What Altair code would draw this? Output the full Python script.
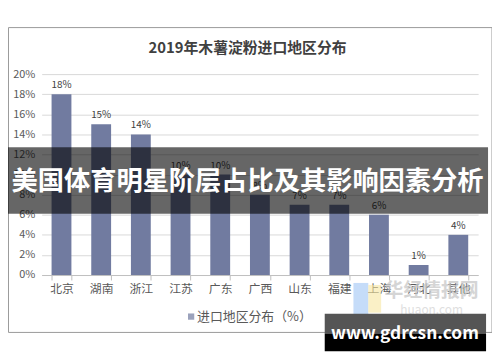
import altair as alt
import pandas as pd

regions = ["北京", "湖南", "浙江", "江苏", "广东", "广西", "山东", "福建", "上海", "河北", "其他"]
shares = [18, 15, 14, 10, 10, 8, 7, 7, 6, 1, 4]
y_ticks = [0, 2, 4, 6, 8, 10, 12, 14, 16, 18, 20]

chart_title = "2019年木薯淀粉进口地区分布"
legend_label = "进口地区分布（%）"
banner_text = "美国体育明星阶层占比及其影响因素分析"
site_text = "www.gdrcsn.com"
faint_name = "华经情报网"
faint_url = "huaon.com"

FONT = "Noto Sans CJK SC"
BAR = "#717BA0"

df = pd.DataFrame({"region": regions, "share": shares})
df["label"] = [f"{v}%" for v in shares]
one = pd.DataFrame({"k": [0]})

W, H = 441, 203

xscale = alt.Scale(paddingInner=0.5, paddingOuter=0.25)
yscale = alt.Scale(domain=[0, 20], nice=False)

xaxis = alt.Axis(labelAngle=0, labelFont=FONT, labelFontSize=12, labelColor="#595959",
                 domainColor="#BFBFBF", tickColor="#BFBFBF", tickSize=5,
                 tickBand="extent", labelPadding=4, grid=False, labelOverlap=False)
yaxis = alt.Axis(values=y_ticks, labelExpr="datum.value + '%'", labelFont=FONT,
                 labelFontSize=11, labelColor="#595959", domain=False, ticks=False,
                 labelPadding=7, gridColor="#D9D9D9", grid=True,
                 labelOverlap=False, labelFlush=False)

xenc = alt.X("region:N", sort=regions, title=None, scale=xscale, axis=xaxis)
yenc = alt.Y("share:Q", title=None, scale=yscale, axis=yaxis)

base = alt.Chart(df)
bars = base.mark_bar(color=BAR).encode(x=xenc, y=yenc)
labels = base.mark_text(font=FONT, fontSize=10, color="#404040", dy=-9).encode(
    x=xenc, y=yenc, text="label:N")

o = alt.Chart(one)

def rect(x, x2, y, y2, **kw):
    return o.mark_rect(**kw).encode(x=alt.value(x), x2=alt.value(x2), y=alt.value(y), y2=alt.value(y2))

def txt(s, x, y, **kw):
    return o.mark_text(**kw).encode(x=alt.value(x), y=alt.value(y), text=alt.value(s))

frame = rect(-33.5, 455, -47, 261, fill=None, stroke="#9A9A9A", strokeWidth=1)
title = txt(chart_title, 208, -26, font=FONT, fontSize=15, fontWeight="bold", color="#404040")
leg_sq = o.mark_square(size=40, color=BAR).encode(x=alt.value(151), y=alt.value(245))
leg_tx = txt(legend_label, 157, 245, font=FONT, fontSize=13, color="#595959", align="left")

logo_b = rect(315, 330, 211, 243, fill="#9EC5F5", opacity=0.6)
logo_y = rect(330, 343, 213, 241, fill="#F7E6A0", opacity=0.6)
faint1 = txt(faint_name, 394, 219, font=FONT, fontSize=19, fontWeight="bold", color="#C8C8C8", opacity=0.75)
faint2 = txt(faint_url, 394, 238, font=FONT, fontSize=12, color="#D5D5D5", opacity=0.75)

banner = rect(-34, 451, 74, 141, fill="#000000", opacity=0.6)
banner_t = txt(banner_text, 208, 109, font=FONT, fontSize=26.5, fontWeight="bold", color="#FFFFFF")

box1 = rect(286, 449, 242, 262, fill="#555555")
box2 = rect(286, 449, 262, 280, fill="#000000")
box_t = txt(site_text, 367, 263, font=FONT, fontSize=17.5, fontWeight="bold", color="#FFFFFF")

chart = alt.layer(frame, bars, labels, title, leg_sq, leg_tx, logo_b, logo_y, faint1, faint2,
                  banner, banner_t, box1, box2, box_t).properties(
    width=W, height=H,
    autosize=alt.AutoSizeParams(type="none"),
    padding={"left": 34, "top": 65, "right": 14, "bottom": 78},
    background="#FFFFFF",
).configure_view(stroke=None)

chart.save("out.html", embed_options={"renderer": "svg", "actions": False})
